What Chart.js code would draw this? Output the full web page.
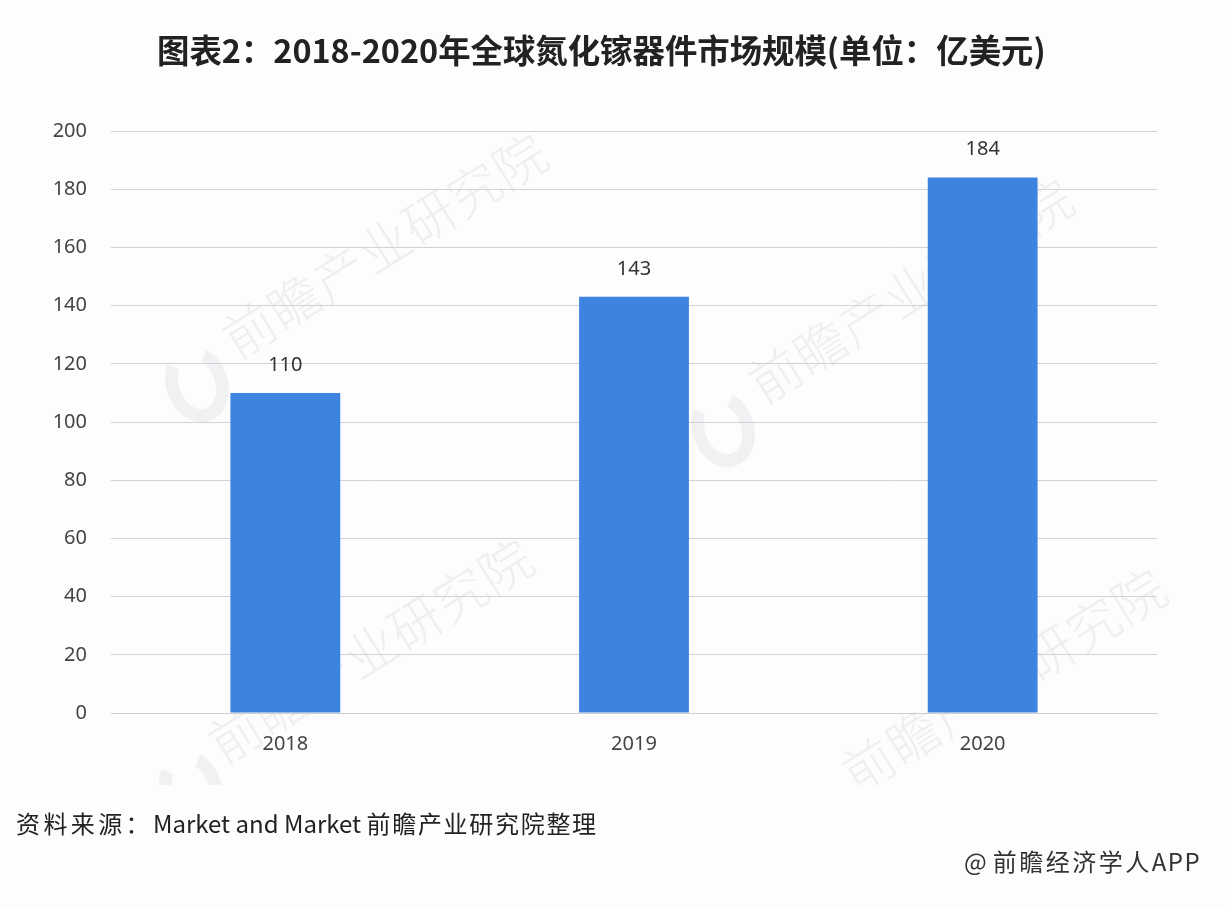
<!DOCTYPE html>
<html><head><meta charset="utf-8">
<style>html,body{margin:0;padding:0;background:#fdfdfd;}
#w{position:relative;width:1226px;height:908px;overflow:hidden;background:#fdfdfd;font-family:"Noto Sans CJK SC",sans-serif}
#marks{position:absolute;left:0;top:0;width:1226px;height:785px;overflow:hidden}
canvas{position:absolute;left:0;top:0}
.t{position:absolute;white-space:nowrap}
.wm{position:absolute;white-space:nowrap;font-size:52px;color:#efeff1;font-weight:300;letter-spacing:1px;transform-origin:left bottom;transform:rotate(-32deg)}
.logo{position:absolute;width:36px;height:52px;border:13px solid #f1f1f3;border-radius:50%;border-top-color:transparent;transform:rotate(-20deg)}
</style>
<script src="https://cdn.jsdelivr.net/npm/chart.js@4"></script></head><body>
<div id="w">
<div id="marks">
<div class="wm" style="left:246px;top:298px;">前瞻产业研究院</div>
<div class="wm" style="left:772px;top:343px;">前瞻产业研究院</div>
<div class="wm" style="left:232px;top:703px;">前瞻产业研究院</div>
<div class="wm" style="left:865px;top:733px;">前瞻产业研究院</div>
<div class="logo" style="left:166px;top:345px;"></div>
<div class="logo" style="left:692px;top:390px;"></div>
<div class="logo" style="left:160px;top:750px;"></div>
</div>
<canvas id="c" width="1226" height="908"></canvas>
<div class="t" style="left:157px;top:27px;font-size:32.4px;line-height:44px;font-weight:700;color:#222;">图表2：2018-2020年全球氮化镓器件市场规模(单位：亿美元)</div>
<div class="t" style="left:16px;top:805px;font-size:24px;line-height:36px;color:#222;"><span style="letter-spacing:3.4px">资料来源：</span>Market and Market <span style="letter-spacing:1.7px">前瞻产业研究院整理</span></div>
<div class="t" style="left:964px;top:843px;font-size:24px;line-height:36px;color:#333;"><span style="letter-spacing:6px">@</span><span style="letter-spacing:2.5px">前瞻经济学人</span><span style="letter-spacing:1.5px">APP</span></div>
</div>
<script>
const categories=["2018","2019","2020"];
const values=[110,143,184];
const yTicks=[0,20,40,60,80,100,120,140,160,180,200];
const tickFont={size:20,family:'"Noto Sans","Noto Sans CJK SC",sans-serif'};
const labelPlugin={id:'lbl',afterDatasetsDraw(ch){const c=ch.ctx;const m=ch.getDatasetMeta(0);c.save();c.font='20px "Noto Sans","Noto Sans CJK SC",sans-serif';c.fillStyle='#333';c.textAlign='center';c.textBaseline='middle';m.data.forEach((b,i)=>c.fillText(String(values[i]),b.x,b.y-28));c.restore();}};
new Chart(document.getElementById('c'),{type:'bar',data:{labels:categories,datasets:[{data:values,backgroundColor:'#3d84e0',barPercentage:0.315,categoryPercentage:1}]},
options:{responsive:false,animation:false,devicePixelRatio:1,
layout:{padding:{left:0,right:69,top:131,bottom:0}},
plugins:{legend:{display:false},tooltip:{enabled:false}},
scales:{x:{afterFit(a){a.height=195;},grid:{display:false},border:{color:'#cfccd2'},ticks:{color:'#444',font:tickFont,padding:11,maxRotation:0}},
y:{min:0,max:200,afterFit(a){a.width=111;},afterBuildTicks(a){a.ticks=yTicks.map(v=>({value:v}));},grid:{color:'#d3d0d6',drawTicks:false},border:{display:false},ticks:{color:'#444',font:tickFont,padding:24}}}},
plugins:[labelPlugin]});
</script></body></html>
